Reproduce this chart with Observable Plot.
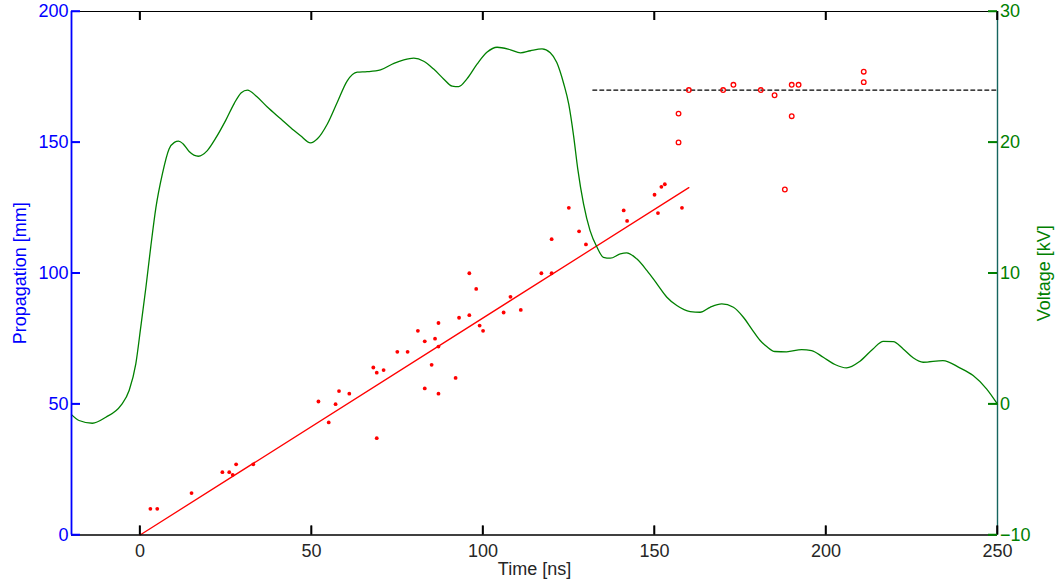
<!DOCTYPE html>
<html>
<head>
<meta charset="utf-8">
<script src="https://cdn.jsdelivr.net/npm/d3@7"></script>
<script src="https://cdn.jsdelivr.net/npm/@observablehq/plot@0.6"></script>
<style>
  html, body { margin: 0; padding: 0; background: white; }
  #chart { width: 1058px; height: 585px; }
</style>
</head>
<body>
<div id="chart"></div>
<script>
// ---- Data ----
const xTicks = [0, 50, 100, 150, 200, 250];
const propTicks = [0, 50, 100, 150, 200];
const voltTicks = [-10, 0, 10, 20, 30];

// measured propagation (filled dots)
const dotT = [3,5,15,24,26,27,28,33,52,55,57,58,61,68,69,71,69,75,78,81,83,86,87,87,85,83,87,92,93,96,96,98,99,100,106,108,111,117,120,120,130,125,128,141,142,150,152,153,151,158];
const dotP = [10,10,16,24,24,23,27,27,51,43,50,55,54,64,62,63,37,70,70,78,74,75,81,72,65,56,54,60,83,84,100,94,80,78,85,91,86,100,100,113,111,125,116,124,120,130,133,134,123,125];

// saturated propagation (open circles)
const ringT = [160,157,157,170,173,181,185,190,192,190,188,211,211];
const ringP = [170,161,150,170,172,170,168,172,172,160,132,177,173];

// linear fit and plateau
const fitT = [0, 160];
const fitP = [0, 132.7];
const plateauT = [132, 250];
const plateauP = [170, 170];

// voltage waveform [kV]
const voltT = [-20,-17.8,-13.9,-10,-5.6,-3.2,-1.25,0.2,1.7,3.1,4.6,6.5,8.45,10.0,11.2,12.5,14.3,17.0,19.6,22.0,25.0,27.5,29.5,31.3,34.0,37.1,41.0,44.9,46.8,49.7,51.7,54.6,57.5,60.4,63.3,66.2,70.1,74.0,76.9,79.8,82.7,85.6,88.5,91.0,92.9,95.3,98.3,101.2,104.1,108.0,110.9,113.8,117.2,119.6,121.5,123.5,125.0,126.4,127.6,129.3,131.2,133.2,135.1,137.1,140.0,141.9,144.8,147.8,150.7,153.6,156.5,160.4,163.3,166.2,169.6,173.0,175.9,178.3,180.8,182.7,185.1,188.5,192.9,195.8,199.2,202.6,206.0,209.9,213.7,216.7,219.6,222.5,225.4,228.3,234.1,239.0,242.9,246.8,250];
const voltV = [-0.8,-1.25,-1.46,-1.0,-0.1,1.04,3.08,5.9,8.93,12.0,15.0,17.6,19.5,20.0,20.1,19.9,19.3,18.94,19.37,20.3,21.7,23.0,23.8,24.0,23.5,22.7,21.8,20.9,20.5,19.96,20.27,21.4,23.06,24.7,25.36,25.4,25.54,26.04,26.3,26.43,26.2,25.6,24.85,24.3,24.26,24.85,26.0,26.9,27.27,27.07,26.84,27.0,27.14,26.85,26.1,24.5,22.9,20.5,18.0,15.3,13.26,12.0,11.22,11.15,11.48,11.56,11.1,10.2,9.19,8.17,7.53,7.07,7.02,7.4,7.66,7.4,6.64,5.75,4.86,4.4,4.02,4.0,4.17,4.09,3.58,3.03,2.77,3.28,4.22,4.8,4.78,4.22,3.54,3.2,3.33,2.77,2.18,1.17,0.0];

// ---- Helpers ----
// right axis (voltage, -10..30) shares the left axis range (0..200)
const vToP = v => (v + 10) * 5;
const fmtV = v => (v < 0 ? "\u2212" + Math.abs(v) : String(v));

const BLUE = "#0000ff";
const GREEN = "#008000";
const RED = "#ff0000";
const RIGHT_AXIS = "#15655f";

const W = 1058, H = 585;
const ML = 71, MR = 61, MT = 11, MB = 50.5;
const FW = W - ML - MR, FH = H - MT - MB;
const X0 = -20, X1 = 250, Y0 = 0, Y1 = 200;
const TICK = 9; // px, drawn inward

const idx = a => a.map((_, i) => i);

const chart = Plot.plot({
  width: W,
  height: H,
  marginLeft: ML,
  marginRight: MR,
  marginTop: MT,
  marginBottom: MB,
  x: {domain: [X0, X1]},
  y: {domain: [Y0, Y1]},
  style: {
    fontFamily: "'Liberation Sans', Arial, Helvetica, sans-serif",
    fontSize: "18px",
    background: "white",
    overflow: "visible"
  },
  marks: [
    // top and right box lines
    Plot.ruleY([Y1], {stroke: "black", strokeWidth: 1.2}),
    Plot.ruleX([X1], {stroke: RIGHT_AXIS, strokeWidth: 1.4}),
    // bottom axis labels
    Plot.axisX(xTicks, {
      anchor: "bottom", tickSize: 0, tickPadding: 9.5,
      fill: "#262626", fontSize: 18,
      label: "Time [ns]", labelAnchor: "center", labelArrow: "none", labelOffset: 40
    }),
    // left axis labels
    Plot.axisY(propTicks, {
      anchor: "left", tickSize: 0, tickPadding: 3,
      fill: BLUE, fontSize: 18,
      label: "Propagation [mm]", labelAnchor: "center", labelArrow: "none", labelOffset: 58
    }),
    // right axis labels (voltage)
    Plot.axisY(voltTicks.map(vToP), {
      anchor: "right", tickSize: 0, tickPadding: 2.5,
      fill: GREEN, fontSize: 18,
      tickFormat: d => fmtV(Math.round(d / 5 - 10)),
      label: "Voltage [kV]", labelAnchor: "center", labelArrow: "none", labelOffset: 52
    }),
    // plateau
    Plot.line(idx(plateauT), {x: i => plateauT[i], y: i => plateauP[i], stroke: "black", strokeWidth: 1.2, strokeDasharray: "4,3"}),
    // fit
    Plot.line(idx(fitT), {x: i => fitT[i], y: i => fitP[i], stroke: RED, strokeWidth: 1.3}),
    // dots
    Plot.dot(idx(dotT), {x: i => dotT[i], y: i => dotP[i], r: 1.9, fill: RED, stroke: "none"}),
    Plot.dot(idx(ringT), {x: i => ringT[i], y: i => ringP[i], r: 2.3, fill: "none", stroke: RED, strokeWidth: 1.3}),
    // voltage waveform
    Plot.line(idx(voltT), {x: i => voltT[i], y: i => vToP(voltV[i]), stroke: GREEN, strokeWidth: 1.3, curve: "monotone-x"}),
    // left and bottom box lines
    Plot.ruleX([X0], {stroke: BLUE, strokeWidth: 1.8}),
    Plot.ruleY([Y0], {stroke: "black", strokeWidth: 1.6}),
    // inward tick marks
    Plot.tickX(xTicks, {x: d => d, stroke: "black", strokeWidth: 1.5, insetTop: FH - TICK}),
    Plot.tickX(xTicks, {x: d => d, stroke: "black", strokeWidth: 1.5, insetBottom: FH - TICK}),
    Plot.tickY(propTicks, {y: d => d, stroke: BLUE, strokeWidth: 1.5, insetRight: FW - TICK}),
    Plot.tickY(voltTicks.map(vToP), {y: d => d, stroke: GREEN, strokeWidth: 1.5, insetLeft: FW - TICK})
  ]
});

document.getElementById("chart").appendChild(chart);

// Reinforce the inward ticks using the chart's own scales
const sx = chart.scale("x"), sy = chart.scale("y");
const svg = d3.select(chart.tagName.toLowerCase() === "svg" ? chart : chart.querySelector("svg"));
const g = svg.append("g").attr("aria-label", "inward ticks").attr("fill", "none");
const yB = sy.apply(Y0), yT = sy.apply(Y1), xL = sx.apply(X0), xR = sx.apply(X1);
for (const t of xTicks) {
  const px = sx.apply(t);
  g.append("line").attr("x1", px).attr("x2", px).attr("y1", yB).attr("y2", yB - TICK).attr("stroke", "black").attr("stroke-width", 1.5);
  g.append("line").attr("x1", px).attr("x2", px).attr("y1", yT).attr("y2", yT + TICK).attr("stroke", "black").attr("stroke-width", 1.5);
}
for (const t of propTicks) {
  const py = sy.apply(t);
  g.append("line").attr("x1", xL).attr("x2", xL + TICK).attr("y1", py).attr("y2", py).attr("stroke", BLUE).attr("stroke-width", 1.5);
}
for (const v of voltTicks) {
  const py = sy.apply(vToP(v));
  g.append("line").attr("x1", xR).attr("x2", xR - TICK).attr("y1", py).attr("y2", py).attr("stroke", GREEN).attr("stroke-width", 1.5);
}
</script>
</body>
</html>
